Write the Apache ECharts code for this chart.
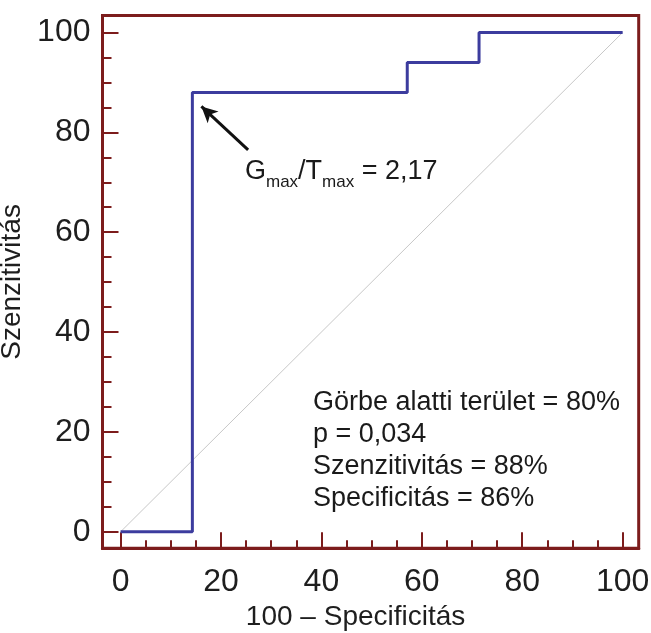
<!DOCTYPE html>
<html>
<head>
<meta charset="utf-8">
<script src="https://cdn.jsdelivr.net/npm/echarts@6/dist/echarts.min.js"></script>
<style>
html, body { margin: 0; padding: 0; background: #fff; }
#chart { width: 651px; height: 633px; }
</style>
</head>
<body>
<div id="chart"></div>
<script>
// ROC görbe adatai
var rocX = [0, 14.3, 14.3, 57.1, 57.1, 71.4, 71.4, 100];
var rocY = [0, 0, 88, 88, 94, 94, 100, 100];
var diagX = [0, 100];
var diagY = [0, 100];
var majorTicks = [0, 20, 40, 60, 80, 100];
var minorTicks = [5, 10, 15, 25, 30, 35, 45, 50, 55, 65, 70, 75, 85, 90, 95];
var arrowFrom = [25.4, 76.5];
var arrowTo = [16.1, 85.2];
var statLines = ['Görbe alatti terület = 80%', 'p = 0,034', 'Szenzitivitás = 88%', 'Specificitás = 86%'];

var maroon = '#7c1c1c';
var blue = '#3c3c9e';
var font = 'Liberation Sans, Arial, sans-serif';

function pairs(xs, ys) {
    var out = [];
    for (var i = 0; i < xs.length; i++) {
        out.push([xs[i], ys[i]]);
    }
    return out;
}

function makeAxis(dim, isMajor) {
    var ax = {
        type: 'value',
        min: dim === 'x' ? -3.6 : -3.3,
        max: dim === 'x' ? 103.2 : 103.4,
        position: dim === 'x' ? 'bottom' : 'left',
        splitLine: {show: false},
        axisLine: {show: isMajor, onZero: false, lineStyle: {color: maroon, width: 3}},
        axisTick: {
            show: true,
            inside: true,
            length: isMajor ? 16 : (dim === 'x' ? 8 : 9),
            customValues: isMajor ? majorTicks : minorTicks,
            lineStyle: {color: maroon, width: 2}
        },
        axisLabel: {
            show: isMajor,
            customValues: majorTicks,
            color: '#1e1e1e',
            fontFamily: font,
            fontSize: 32,
            margin: dim === 'x' ? 18 : 12
        }
    };
    if (isMajor && dim === 'x') {
        ax.name = '100 \u2013 Specificitás';
        ax.nameLocation = 'middle';
        ax.nameGap = 55;
        ax.nameTextStyle = {color: '#1e1e1e', fontFamily: font, fontSize: 28, padding: [0, 30, 0, 0]};
    }
    if (isMajor && dim === 'y') {
        ax.name = 'Szenzitivitás';
        ax.nameLocation = 'middle';
        ax.nameGap = 60;
        ax.nameTextStyle = {color: '#1e1e1e', fontFamily: font, fontSize: 28};
    }
    return ax;
}

var chart = echarts.init(document.getElementById('chart'));
var option = {
    animation: false,
    backgroundColor: '#fff',
    grid: {
        left: 102.5, right: 12.3, top: 15.5, bottom: 84.7,
        outerBoundsMode: 'none',
        containLabel: false,
        show: true, borderColor: maroon, borderWidth: 3, backgroundColor: 'transparent'
    },
    xAxis: [makeAxis('x', true), makeAxis('x', false)],
    yAxis: [makeAxis('y', true), makeAxis('y', false)],
    series: [{
        type: 'line',
        data: pairs(diagX, diagY),
        showSymbol: false,
        silent: true,
        lineStyle: {color: '#c8c8c8', width: 1}
    }, {
        type: 'line',
        data: pairs(rocX, rocY),
        showSymbol: false,
        silent: true,
        lineStyle: {color: blue, width: 3},
        markLine: {
            silent: true,
            symbol: ['none', 'arrow'],
            symbolSize: [12, 16],
            label: {show: false},
            lineStyle: {color: '#111', width: 3, type: 'solid'},
            data: [[{coord: arrowFrom}, {coord: arrowTo}]]
        }
    }],
    graphic: [{
        type: 'text',
        left: 245,
        top: 158,
        style: {
            text: '{a|G}{s|max}{a|/T}{s|max}{a| = 2,17}',
            rich: {
                a: {fontFamily: font, fontSize: 27, lineHeight: 29, verticalAlign: 'top', fill: '#1a1a1a'},
                s: {fontFamily: font, fontSize: 17, lineHeight: 17, padding: [16, 0, 0, 0], verticalAlign: 'top', fill: '#1a1a1a'}
            }
        }
    }, {
        type: 'text',
        left: 313,
        top: 387,
        style: {
            text: statLines.join('\n'),
            fontFamily: font,
            fontSize: 27,
            lineHeight: 32,
            fill: '#1a1a1a'
        }
    }]
};
chart.setOption(option);
</script>
</body>
</html>
